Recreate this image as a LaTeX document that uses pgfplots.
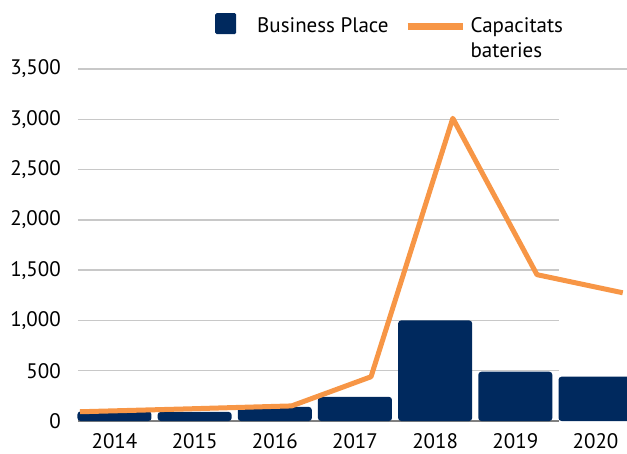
\documentclass[border=0pt]{standalone}
\usepackage{fontspec}
\setmainfont{PT Sans}
\usepackage{pgfplots}
\pgfplotsset{compat=1.18}
\definecolor{navy}{RGB}{0,41,94}
\definecolor{orng}{RGB}{247,150,70}
\definecolor{gridc}{RGB}{200,200,200}
\definecolor{basec}{RGB}{128,128,128}
\begin{document}
\fontsize{21bp}{25bp}\selectfont
\begin{tikzpicture}
\useasboundingbox (0,0) rectangle (627bp,454bp);
\begin{axis}[
  at={(78bp,33bp)}, anchor=south west,
  scale only axis, width=549bp, height=352bp,
  xmin=-0.455, xmax=6.393, ymin=0, ymax=3500,
  clip=false,
  axis line style={draw=none},
  major tick length=0pt,
  xtick={0,1,2,3,4,5,6},
  xticklabels={2014,2015,2016,2017,2018,2019,2020},
  ytick={0,500,1000,1500,2000,2500,3000,3500},
  /pgf/number format/assume math mode=true,
  /pgf/number format/1000 sep={,},
  xticklabel style={anchor=north, inner sep=0pt, yshift=-12.5bp},
  yticklabel style={anchor=east, inner sep=0pt, xshift=-17bp},
  legend columns=2,
  legend style={draw=none, fill=none, at={(0.2441,1.1648)}, anchor=north west,
    nodes={inner sep=0pt, anchor=base west}, column sep=0pt},
]
\pgfplotsinvokeforeach{500,1000,1500,2000,2500,3000}{
  \draw[gridc, line width=1.5bp] (axis cs:-0.455,#1) -- (axis cs:5.545,#1);
}
\draw[gridc, line width=1.5bp] (axis cs:-0.455,3500) -- (axis cs:6.393,3500);
\draw[basec, line width=2bp] (axis cs:-0.455,0) -- (axis cs:5.545,0);
\addplot[ybar, bar width=74bp, fill=navy, draw=none, rounded corners=3bp,
  legend image code/.code={
    \fill[navy, rounded corners=1.5bp] (0bp,-2bp) rectangle (21bp,19bp);
    \path[draw=none, fill=none] (0bp,0bp) -- (42bp,0bp);}]
  coordinates {(0,95) (1,90) (2,140) (3,240) (4,1000) (5,490) (6,440)};
\addlegendentry{Business Place}
\addplot[orng, line width=5bp, line join=round, sharp plot, mark=none,
  legend image code/.code={
    \draw[orng, line width=7bp] (19bp,6bp) -- (74bp,6bp);
    \path[draw=none, fill=none] (0bp,0bp) -- (82bp,0bp);}]
  coordinates {(-0.43,92) (0.89,120) (2.21,150) (3.20,440) (4.22,3010) (5.27,1455) (6.34,1275)};
\addlegendentry{\begin{tabular}[t]{@{}l@{}}Capacitats\\bateries\end{tabular}}
\end{axis}
\end{tikzpicture}
\end{document}
